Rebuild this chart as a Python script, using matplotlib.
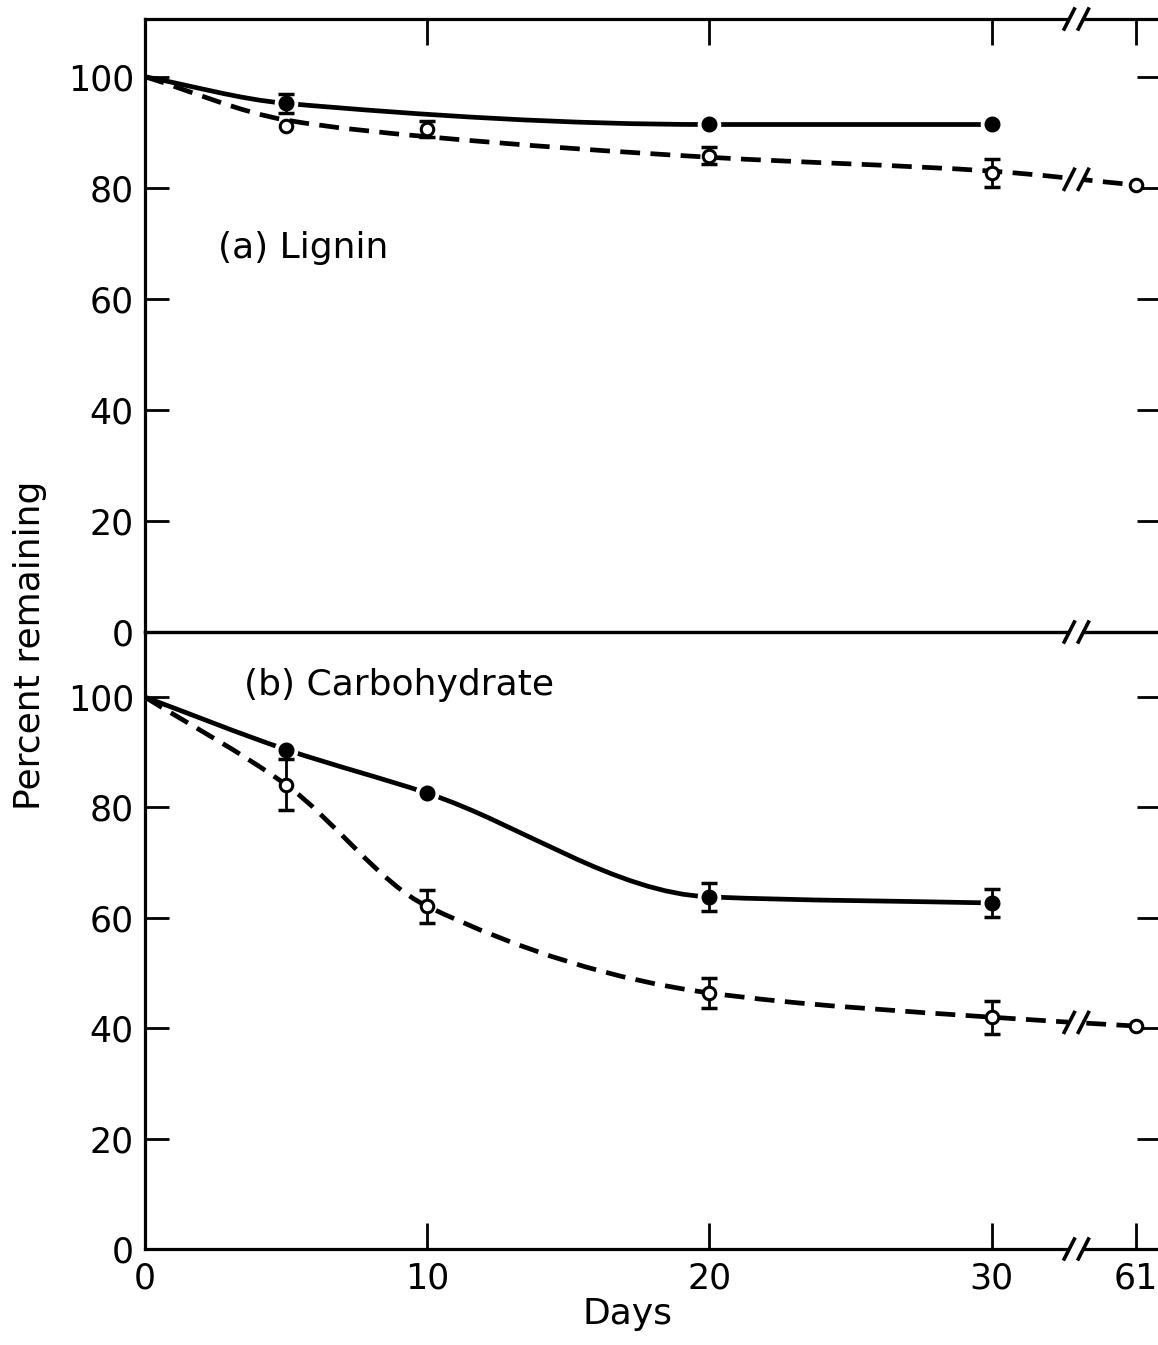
import numpy as np
import matplotlib
matplotlib.use('Agg')
import matplotlib.pyplot as plt
from matplotlib.path import Path
from matplotlib.patches import PathPatch

# x axis: days 0-30 to scale, then a break, then day 61
tick_days = [0, 10, 20, 30, 61]
tick_labels = ['0', '10', '20', '30', '61']
y_ticks = [0, 20, 40, 60, 80, 100]

# (a) lignin
lig_fill_days = [0, 5, 20, 30]
lig_fill_pct = [100, 95.2, 91.4, 91.4]
lig_fill_err = [0, 1.7, 0, 0]
lig_open_days = [0, 5, 10, 20, 30, 61]
lig_open_pct = [100, 91.2, 90.6, 85.8, 82.7, 80.5]
lig_open_err = [0, 0, 1.5, 1.5, 2.5, 0]
lig_open_line = [100, 92.2, 89.2, 85.5, 83.0, 80.5]   # hand-drawn curve, not through every point

# (b) carbohydrate
carb_fill_days = [0, 5, 10, 20, 30]
carb_fill_pct = [100, 90.5, 82.6, 63.8, 62.7]
carb_fill_err = [0, 0, 0, 2.5, 2.5]
carb_open_days = [0, 5, 10, 20, 30, 61]
carb_open_pct = [100, 84.1, 62.1, 46.4, 42.0, 40.4]
carb_open_err = [0, 4.6, 3.0, 2.7, 3.0, 0]

BREAK_X = 33.0
X61 = 35.1
LW = 3.4
FS = 25


def xpos(days):
    return [d if d <= 30 else X61 for d in days]


def smooth(ax, days, pct, dashed):
    # monotone cubic drawn as bezier segments
    x = np.array(xpos(days), float)
    y = np.array(pct, float)
    h = np.diff(x)
    d = np.diff(y) / h
    m = np.zeros_like(x)
    m[0], m[-1] = d[0], d[-1]
    for i in range(1, len(x) - 1):
        if d[i - 1] * d[i] <= 0:
            m[i] = 0
        else:
            m[i] = 3 * (h[i - 1] + h[i]) / ((2 * h[i] + h[i - 1]) / d[i - 1] + (h[i] + 2 * h[i - 1]) / d[i])
    verts = [(x[0], y[0])]
    codes = [Path.MOVETO]
    for i in range(len(x) - 1):
        verts += [(x[i] + h[i] / 3, y[i] + m[i] * h[i] / 3),
                  (x[i + 1] - h[i] / 3, y[i + 1] - m[i + 1] * h[i] / 3),
                  (x[i + 1], y[i + 1])]
        codes += [Path.CURVE4] * 3
    ls = (0, (4.2, 2.2)) if dashed else '-'
    ax.add_patch(PathPatch(Path(verts, codes), fill=False, lw=LW, ls=ls,
                           edgecolor='black', capstyle='butt', zorder=2))


def points(ax, days, pct, err, filled):
    x = xpos(days)
    sel = [i for i in range(len(x)) if days[i] > 0]
    xs = [x[i] for i in sel]
    ys = [pct[i] for i in sel]
    ex = [x[i] for i in sel if err[i] > 0]
    ey = [pct[i] for i in sel if err[i] > 0]
    ee = [err[i] for i in sel if err[i] > 0]
    if filled:
        ax.plot(xs, ys, 'o', ms=16, color='white', zorder=3)
    if ee:
        ax.errorbar(ex, ey, yerr=ee, fmt='none', ecolor='black', elinewidth=2,
                    capsize=5.5, capthick=2.5, zorder=3.5)
    if filled:
        ax.plot(xs, ys, 'o', ms=10.5, color='black', zorder=4)
    else:
        ax.plot(xs, ys, 'o', ms=9, mfc='white', mec='black', mew=2.2, zorder=4)


def break_mark(ax, x, y, gap=True):
    if gap:
        ax.plot([x - 0.28, x + 0.28], [y, y], color='white', lw=7,
                solid_capstyle='butt', zorder=5, clip_on=False)
    for dx in (-0.25, 0.25):
        ax.plot([x + dx - 0.18, x + dx + 0.18], [y - 1.8, y + 1.8], color='black',
                lw=2.6, zorder=6, clip_on=False)


fig = plt.figure(figsize=(11.58, 13.45), dpi=100)
W, H = 1158, 1345
left, right = 145 / W, 1161 / W
ax2 = fig.add_axes([left, 1 - 1249 / H, right - left, (1249 - 632) / H])
ax1 = fig.add_axes([left, 1 - 632 / H, right - left, (632 - 19) / H])
ax1.patch.set_visible(False)
ax2.patch.set_visible(False)

for ax, top in ((ax1, 110.4), (ax2, 111.8)):
    ax.set_xlim(0, 36)
    ax.set_ylim(0, top)
    for s in ax.spines.values():
        s.set_linewidth(2.3)
    ax.set_yticks(y_ticks)
    ax.set_yticklabels([str(v) for v in y_ticks])
    ax.set_xticks(xpos(tick_days)[1:])
    ax.tick_params(axis='y', which='both', direction='in', length=17, width=2,
                   left=True, right=True, labelsize=FS, pad=8)

ax1.tick_params(axis='x', direction='in', length=19, width=2, top=True, bottom=False,
                labeltop=False, labelbottom=False)
ax2.tick_params(axis='x', direction='in', length=19, width=2, top=False, bottom=True,
                labelsize=FS, pad=9)
ax2.set_xticks(xpos(tick_days))
ax2.set_xticklabels(tick_labels)
ax2.get_xticklines()[0].set_visible(False)

smooth(ax1, lig_fill_days, lig_fill_pct, False)
smooth(ax1, lig_open_days, lig_open_line, True)
points(ax1, lig_fill_days, lig_fill_pct, lig_fill_err, True)
points(ax1, lig_open_days, lig_open_pct, lig_open_err, False)

smooth(ax2, carb_fill_days, carb_fill_pct, False)
smooth(ax2, carb_open_days, carb_open_pct, True)
points(ax2, carb_fill_days, carb_fill_pct, carb_fill_err, True)
points(ax2, carb_open_days, carb_open_pct, carb_open_err, False)

# axis breaks
break_mark(ax1, BREAK_X, 110.4)
break_mark(ax1, BREAK_X, 0)
break_mark(ax2, BREAK_X, 0)
break_mark(ax1, BREAK_X, np.interp(BREAK_X, [30, X61], [lig_open_line[-2], lig_open_line[-1]]))
break_mark(ax2, BREAK_X, np.interp(BREAK_X, [30, X61], [carb_open_pct[-2], carb_open_pct[-1]]))

ax1.text(2.6, 69.2, '(a) Lignin', fontsize=FS + 1, ha='left', va='center')
ax2.text(3.5, 102.2, '(b) Carbohydrate', fontsize=FS + 1, ha='left', va='center')

fig.text(30 / W, 1 - 645 / H, 'Percent remaining', rotation=90, fontsize=FS + 1,
         ha='center', va='center')
fig.text(628 / W, 1 - 1314 / H, 'Days', fontsize=FS + 1, ha='center', va='center')

fig.savefig('out.png', dpi=100)
